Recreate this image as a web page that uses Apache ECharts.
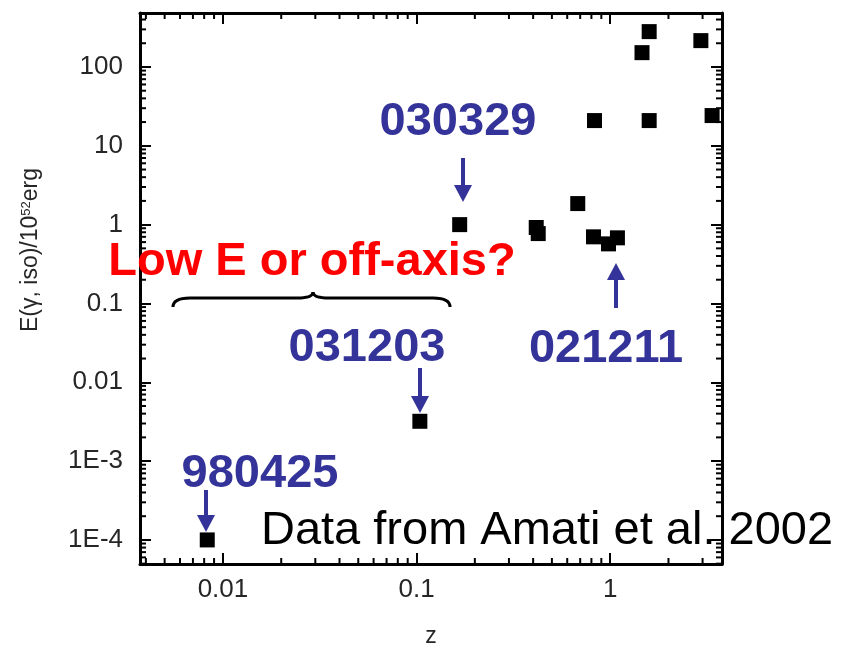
<!DOCTYPE html>
<html>
<head>
<meta charset="utf-8">
<script src="https://cdn.jsdelivr.net/npm/echarts@6/dist/echarts.min.js"></script>
<style>
html, body { margin: 0; padding: 0; background: #fff; }
#container { width: 844px; height: 648px; }
</style>
</head>
<body>
<div id="container"></div>
<script>
// redshift and isotropic energy (10^52 erg) of each burst
var burstZ = [0.0083, 0.104, 0.167, 0.415, 0.425, 0.68, 0.82, 0.83, 0.98, 1.09, 1.46, 1.59, 1.59, 2.94, 3.36];
var burstE = [1.0e-4, 0.0032, 1.0, 0.92, 0.77, 1.85, 0.70, 20.9, 0.57, 0.68, 152, 281, 20.9, 216, 24.2];

var zRange = [0.00373, 3.78];
var eRange = [4.95e-5, 484];

var blue = '#333399';
var font = '"Liberation Sans", Arial, sans-serif';

var dom = document.getElementById("container");
var myChart = echarts.init(dom);

var points = burstZ.map(function (z, i) {
    return [z, burstE[i]];
});

// 2..9 x 10^k inside the axis range
function minorTicks(range) {
    var out = [];
    for (var k = -6; k <= 3; k++) {
        for (var m = 2; m <= 9; m++) {
            var v = m * Math.pow(10, k);
            if (v > range[0] && v < range[1]) out.push(v);
        }
    }
    return out;
}

function eLabel(v) {
    var e = Math.round(Math.log10(v));
    if (e >= 0) return String(Math.pow(10, e));
    if (e >= -2) return Math.pow(10, e).toFixed(-e);
    return '1E' + e;
}

function zLabel(v) {
    var e = Math.round(Math.log10(v));
    if (e >= 0) return String(Math.pow(10, e));
    return Math.pow(10, e).toFixed(-e);
}

var tickStyle = { show: true, inside: true, length: 11, lineStyle: { color: '#000', width: 2 } };
var lineStyle = { show: true, lineStyle: { color: '#000', width: 3 } };
var labelStyle = { color: '#262626', fontSize: 26, fontFamily: font };

function arrow(x, yFrom, yTip) {
    var dir = yTip > yFrom ? 1 : -1;
    return {
        type: 'group',
        children: [
            { type: 'line', shape: { x1: x, y1: yFrom, x2: x, y2: yTip - dir * 14 }, style: { stroke: blue, lineWidth: 4 } },
            { type: 'polygon', shape: { points: [[x - 9, yTip - dir * 17], [x + 9, yTip - dir * 17], [x, yTip]] }, style: { fill: blue } }
        ]
    };
}

function bigText(text, x, y, color, weight) {
    return {
        type: 'text', x: x, y: y,
        style: {
            text: text, fill: color, font: weight + ' 47px ' + font,
            align: 'center', verticalAlign: 'middle'
        },
        z: 10
    };
}

function curve(x1, y1, cx, cy, x2, y2) {
    return {
        type: 'bezierCurve',
        shape: { x1: x1, y1: y1, cpx1: cx, cpy1: cy, x2: x2, y2: y2 },
        style: { fill: null, stroke: '#000', lineWidth: 3 }
    };
}

function seg(x1, y1, x2, y2) {
    return {
        type: 'line',
        shape: { x1: x1, y1: y1, x2: x2, y2: y2 },
        style: { stroke: '#000', lineWidth: 3 }
    };
}

option = {
    backgroundColor: '#fff',
    animation: false,
    grid: { left: 140, right: 122, top: 13, bottom: 84, outerBoundsMode: 'none' },
    xAxis: [{
        type: 'log', logBase: 10, min: zRange[0], max: zRange[1],
        position: 'bottom',
        name: 'z', nameLocation: 'middle', nameGap: 61,
        nameTextStyle: { color: '#262626', fontSize: 23, fontFamily: font },
        axisLine: lineStyle, axisTick: tickStyle, splitLine: { show: false },
        axisLabel: {
            color: labelStyle.color, fontSize: labelStyle.fontSize, fontFamily: font,
            margin: 13, showMinLabel: false, showMaxLabel: false, formatter: zLabel
        }
    }, {
        type: 'log', logBase: 10, min: zRange[0], max: zRange[1],
        position: 'top',
        axisLine: lineStyle, axisTick: tickStyle, splitLine: { show: false },
        axisLabel: { show: false }
    }],
    yAxis: [{
        type: 'log', logBase: 10, min: eRange[0], max: eRange[1],
        position: 'left',
        axisLine: lineStyle, axisTick: tickStyle, splitLine: { show: false },
        axisLabel: {
            color: labelStyle.color, fontSize: labelStyle.fontSize, fontFamily: font,
            margin: 17, showMinLabel: false, showMaxLabel: false, formatter: eLabel
        }
    }, {
        type: 'log', logBase: 10, min: eRange[0], max: eRange[1],
        position: 'right',
        axisLine: lineStyle, axisTick: tickStyle, splitLine: { show: false },
        axisLabel: { show: false }
    }],
    series: [{
        type: 'custom',
        silent: true,
        xAxisIndex: 0, yAxisIndex: 0,
        data: minorTicks(zRange).map(function (v) { return [v, 1]; }),
        renderItem: function (params, api) {
            var x = api.coord([api.value(0), 1])[0];
            var cs = params.coordSys;
            var st = { stroke: '#000', lineWidth: 2 };
            return {
                type: 'group', children: [
                    { type: 'line', shape: { x1: x, y1: cs.y + cs.height, x2: x, y2: cs.y + cs.height - 6 }, style: st },
                    { type: 'line', shape: { x1: x, y1: cs.y, x2: x, y2: cs.y + 6 }, style: st }
                ]
            };
        }
    }, {
        type: 'custom',
        silent: true,
        xAxisIndex: 0, yAxisIndex: 0,
        data: minorTicks(eRange).map(function (v) { return [1, v]; }),
        renderItem: function (params, api) {
            var y = api.coord([1, api.value(1)])[1];
            var cs = params.coordSys;
            var st = { stroke: '#000', lineWidth: 2 };
            return {
                type: 'group', children: [
                    { type: 'line', shape: { x1: cs.x, y1: y, x2: cs.x + 6, y2: y }, style: st },
                    { type: 'line', shape: { x1: cs.x + cs.width, y1: y, x2: cs.x + cs.width - 6, y2: y }, style: st }
                ]
            };
        }
    }, {
        type: 'scatter',
        xAxisIndex: 0, yAxisIndex: 0,
        symbol: 'rect',
        symbolSize: 15,
        itemStyle: { color: '#000', opacity: 1 },
        data: points,
        z: 5
    }],
    graphic: [
        {
            type: 'text', x: 31, y: 250, rotation: Math.PI / 2,
            style: {
                text: '{a|E(γ, iso)/10}{s|52}{a|erg}',
                align: 'center', verticalAlign: 'middle',
                rich: {
                    a: { fontSize: 23, fontFamily: font, fill: '#262626', color: '#262626' },
                    s: { fontSize: 13, fontFamily: font, fill: '#262626', color: '#262626', verticalAlign: 'top', padding: [0, 0, 8, 0] }
                }
            }
        },
        bigText('030329', 458, 122, blue, 'bold'),
        bigText('Low E or off-axis?', 312, 262, '#ff0000', 'bold'),
        bigText('031203', 367, 348, blue, 'bold'),
        bigText('021211', 606, 349, blue, 'bold'),
        bigText('980425', 260, 474, blue, 'bold'),
        bigText('Data from Amati et al. 2002', 547, 531, '#000', 'normal'),
        arrow(463, 158, 202),
        arrow(420, 368, 413),
        arrow(206, 490, 532),
        arrow(616, 308, 263),
        // curly brace over the low-z bursts
        curve(173, 307, 173, 298, 190, 298),
        seg(190, 298, 297, 298),
        curve(297, 298, 313, 298, 313, 292),
        curve(313, 292, 313, 298, 329, 298),
        seg(329, 298, 433, 298),
        curve(433, 298, 450, 298, 450, 307)
    ]
};

if (option && typeof option === "object") {
    myChart.setOption(option, true);
}
</script>
</body>
</html>
